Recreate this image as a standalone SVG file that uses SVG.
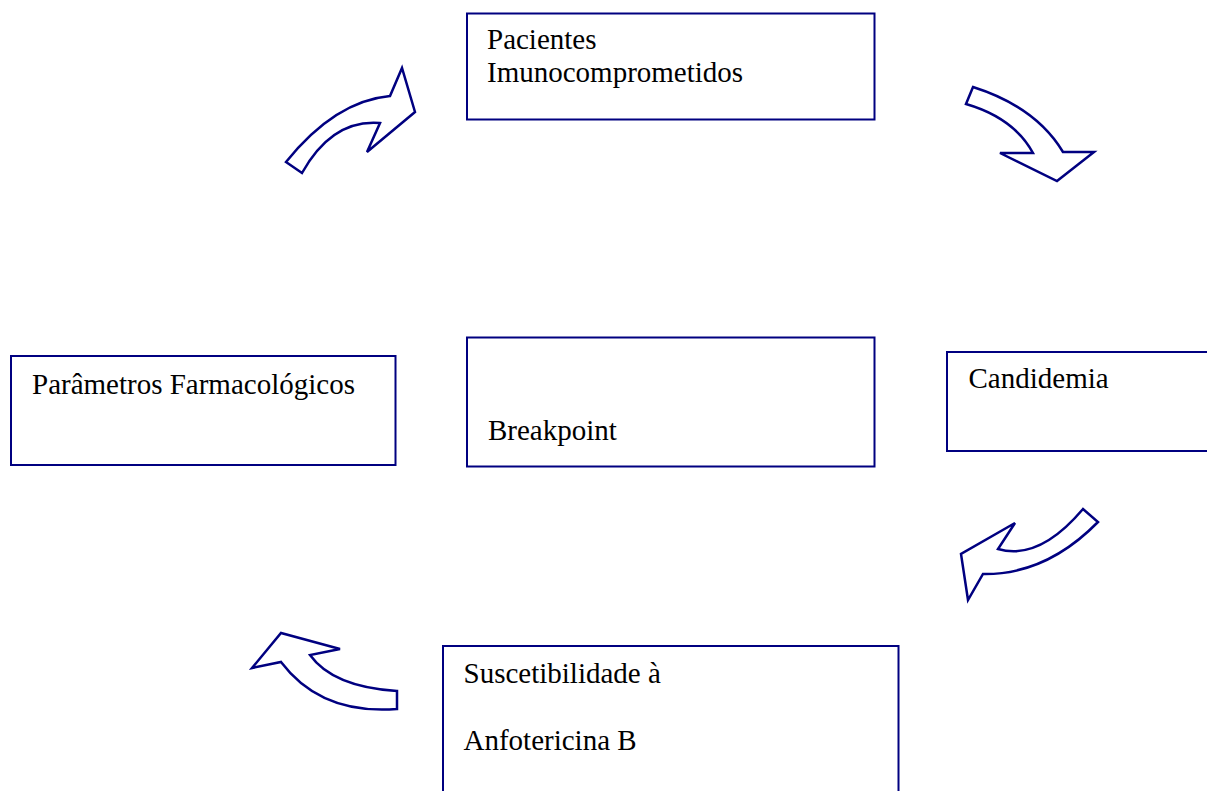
<svg xmlns="http://www.w3.org/2000/svg" width="1207" height="791" viewBox="0 0 1207 791">
<style>
.box{fill:#fff;stroke:#000080;stroke-width:2}
.arr{fill:#fff;stroke:#000080;stroke-width:2.5;stroke-linejoin:miter}
text{font-family:"Liberation Serif","Times New Roman",serif;font-size:29px;fill:#000}
</style>
<rect width="1207" height="791" fill="#fff"/>
<g id="node-pacientes">
<rect class="box" x="467" y="13.5" width="407.5" height="106"/>
<text x="487" y="49">Pacientes</text>
<text x="487" y="82">Imunocomprometidos</text>
</g>
<g id="node-candidemia">
<rect class="box" x="947" y="352" width="270" height="99"/>
<text x="968.5" y="388">Candidemia</text>
</g>
<g id="node-parametros">
<rect class="box" x="11" y="356" width="384.5" height="109"/>
<text x="32" y="394">Parâmetros Farmacológicos</text>
</g>
<g id="node-breakpoint">
<rect class="box" x="467" y="337.5" width="407.5" height="129"/>
<text x="488" y="440">Breakpoint</text>
</g>
<g id="node-suscetibilidade">
<rect class="box" x="443" y="646" width="455.5" height="160"/>
<text x="463.5" y="683">Suscetibilidade à</text>
<text x="463.5" y="750">Anfotericina B</text>
</g>
<g id="connectors">
<path class="arr" d="M286,162 Q335,101 390,96 L402,68 L415,112 L367,152 L380,123 Q332,119 302,173 Z"/>
<path class="arr" d="M973,87 Q1036,107 1063,152 L1094,152 L1057,181 L1000,153 L1033,153 Q1014,118 966,104 Z"/>
<path class="arr" d="M1083,509 Q1039,561 998,549 L1015,523 L961,554 L968,600 L983,574 Q1046,575 1098,522 Z"/>
<path class="arr" d="M397,691 Q333,687 310,655 L340,649 L281,633 L252,668 L281,662 Q321,715 397,709 Z"/>
</g>
</svg>
